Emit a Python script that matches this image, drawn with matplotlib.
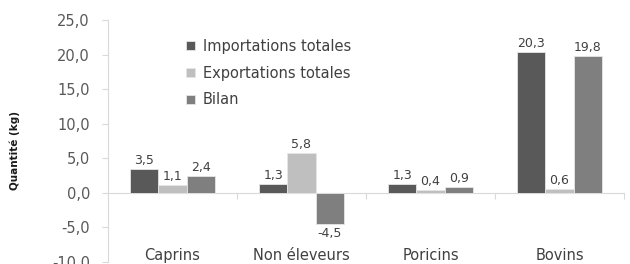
import matplotlib
matplotlib.use("Agg")
import matplotlib.pyplot as plt
import numpy as np

categories = ["Caprins", "Non éleveurs", "Poricins", "Bovins"]
importations = [3.5, 1.3, 1.3, 20.3]
exportations = [1.1, 5.8, 0.4, 0.6]
bilan = [2.4, -4.5, 0.9, 19.8]
series_names = ["Importations totales", "Exportations totales", "Bilan"]
yticks = [-10, -5, 0, 5, 10, 15, 20, 25]

colors = ["#595959", "#bfbfbf", "#7f7f7f"]
txt = "#404040"

plt.rcParams['font.family'] = ['DejaVu Sans']

fig = plt.figure(figsize=(6.3, 2.64), dpi=100)
ax = fig.add_axes([108/630, 1-262/264, (624-108)/630, (262-20)/264])

x = np.arange(len(categories))
w = 0.22
series = [importations, exportations, bilan]
handles = []
for i, (vals, c, name) in enumerate(zip(series, colors, series_names)):
    bars = ax.bar(x + (i-1)*w, vals, w, color=c, edgecolor="#e6e6e6", linewidth=0.6, label=name, zorder=3)
    handles.append(bars)
    for xi, v in zip(x + (i-1)*w, vals):
        lab = f"{v:.1f}".replace(".", ",")
        if v >= 0:
            ax.annotate(lab, (xi, v), xytext=(0, 1.5), textcoords="offset points",
                        ha="center", va="bottom", fontsize=9, color=txt)
        else:
            ax.annotate(lab, (xi, v), xytext=(0, -2.5), textcoords="offset points",
                        ha="center", va="top", fontsize=9, color=txt)

ax.set_xlim(-0.5, 3.5)
ax.set_ylim(-10, 25)
ax.set_yticks(yticks)
ax.set_yticklabels([f"{t:.1f}".replace(".", ",") for t in yticks], fontsize=10.5, color="#595959")
ax.tick_params(axis="y", length=4, color="#d9d9d9", pad=9)

ax.spines['top'].set_visible(False)
ax.spines['right'].set_visible(False)
ax.spines['left'].set_color("#d9d9d9")
ax.spines['bottom'].set_position(('data', 0))
ax.spines['bottom'].set_color("#d9d9d9")
ax.set_xticks([0.5, 1.5, 2.5, 3.5])
ax.set_xticklabels([])
ax.tick_params(axis="x", length=4, color="#d9d9d9")

for xi, cat in zip(x, categories):
    ax.text(xi, -9.1, cat, ha="center", va="center", fontsize=10.5, color=txt)

fig.text(15/630, 1-150/264, "Quantité (kg)", rotation=90, ha="center", va="center",
         fontsize=7.5, fontweight="bold", color="#1a1a1a", family=["Liberation Sans Narrow", "DejaVu Sans"])

leg = ax.legend(handles=handles, loc="upper left", bbox_to_anchor=(186/630, 1-39/264),
                bbox_transform=fig.transFigure, frameon=False, fontsize=10.5,
                handlelength=0.6, handleheight=0.6, handletextpad=0.55, labelspacing=0.8,
                borderpad=0, borderaxespad=0)
for t in leg.get_texts():
    t.set_color(txt)

fig.savefig("out.png", dpi=100)
